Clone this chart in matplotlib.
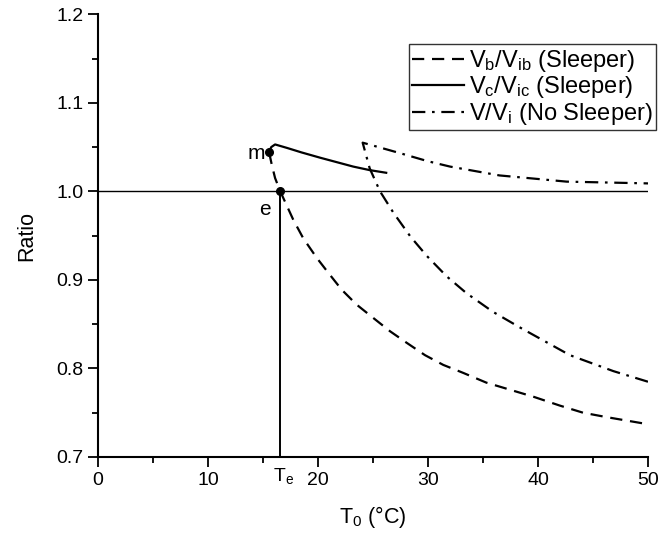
import numpy as np
import matplotlib.pyplot as plt

plt.rcParams['font.family'] = ['Liberation Sans', 'DejaVu Sans']
plt.rcParams['mathtext.fontset'] = 'custom'
plt.rcParams['mathtext.rm'] = 'Liberation Sans'
plt.rcParams['mathtext.it'] = 'Liberation Sans'
plt.rcParams['mathtext.default'] = 'rm'

# Vb/Vib (Sleeper): from point m through point e and down
vb_T = [15.55, 15.8, 16.1, 16.57, 17.75, 18.66, 19.88, 20.94, 22.15, 23.52, 25.03,
        26.55, 28.06, 29.73, 31.39, 33.2, 35.3, 37.45, 39.6, 42.0, 44.1, 46.25, 50.0]
vb_R = [1.0445, 1.030, 1.015, 1.000, 0.968, 0.947, 0.925, 0.908, 0.889, 0.872, 0.857,
        0.842, 0.829, 0.815, 0.804, 0.795, 0.784, 0.776, 0.768, 0.758, 0.750, 0.745, 0.737]

# Vc/Vic (Sleeper)
vc_T = [15.55, 15.75, 16.1, 17.2, 18.5, 20.2, 21.7, 23.2, 24.7, 26.2]
vc_R = [1.0445, 1.050, 1.053, 1.049, 1.044, 1.038, 1.033, 1.028, 1.024, 1.021]

# V/Vi (No Sleeper): lower branch then upper branch
v_T = [50.0, 46.85, 42.9, 38.4, 35.9, 33.5, 31.7, 29.9, 28.4, 26.85, 25.64, 24.7, 24.06,
       25.5, 27.5, 30.0, 32.0, 36.5, 42.6, 50.0]
v_R = [0.785, 0.797, 0.815, 0.846, 0.864, 0.885, 0.904, 0.927, 0.949, 0.976, 1.000, 1.026, 1.055,
       1.050, 1.043, 1.034, 1.028, 1.018, 1.011, 1.009]

T_e = 16.57
m_pt = (15.55, 1.0445)
e_pt = (T_e, 1.0)

fig = plt.figure(figsize=(6.59, 5.35), dpi=100)
ax = fig.add_axes([0.1487, 0.1458, 0.8346, 0.8275])

ax.plot(vb_T, vb_R, color='black', lw=1.6, ls=(0, (5.5, 3.5)), label=r'V$_b$/V$_{ib}$ (Sleeper)')
ax.plot(vc_T, vc_R, color='black', lw=1.6, ls='-', label=r'V$_c$/V$_{ic}$ (Sleeper)')
ax.plot(v_T, v_R, color='black', lw=1.6, ls=(0, (6, 3, 1.2, 3)), label=r'V/V$_i$ (No Sleeper)')

# reference lines
ax.plot([0, 50], [1.0, 1.0], color='black', lw=1.0)
ax.plot([T_e, T_e], [0.7, 1.0], color='black', lw=1.4)

ax.plot(*m_pt, 'o', color='black', ms=5.5)
ax.plot(*e_pt, 'o', color='black', ms=5.5)
ax.text(m_pt[0] - 0.4, m_pt[1] - 0.002, 'm', fontsize=15, ha='right', va='center')
ax.text(e_pt[0] - 1.4, 0.979, 'e', fontsize=15, ha='center', va='center')

ax.set_xlim(0, 50)
ax.set_ylim(0.7, 1.2)
ax.set_xticks([0, 10, 20, 30, 40, 50])
ax.set_xticks([5, 15, 25, 35, 45], minor=True)
ax.set_yticks([0.7, 0.8, 0.9, 1.0, 1.1, 1.2])
ax.set_yticks([0.75, 0.85, 0.95, 1.05, 1.15], minor=True)
ax.set_yticklabels(['0.7', '0.8', '0.9', '1.0', '1.1', '1.2'])
ax.tick_params(which='major', direction='out', length=7, width=1.3, labelsize=14)
ax.tick_params(which='minor', direction='out', length=4.5, width=1.3)

ax.text(T_e + 0.3, -0.02, r'T$_e$', transform=ax.get_xaxis_transform(), fontsize=14,
        ha='center', va='top')

for side in ['top', 'right']:
    ax.spines[side].set_visible(False)
for side in ['left', 'bottom']:
    ax.spines[side].set_linewidth(1.5)

ax.set_xlabel(r'T$_0$ (°C)', fontsize=15.5, labelpad=11)
ax.set_ylabel('Ratio', fontsize=15.5, labelpad=14)

leg = ax.legend(loc='upper right', bbox_to_anchor=(1.015, 0.932), fontsize=17, frameon=True,
                fancybox=False, edgecolor='black', handlelength=2.2, handletextpad=0.2,
                borderpad=0.15, labelspacing=0.02, borderaxespad=0.0)
leg.get_frame().set_linewidth(1.0)

fig.savefig('out.png', dpi=100)
